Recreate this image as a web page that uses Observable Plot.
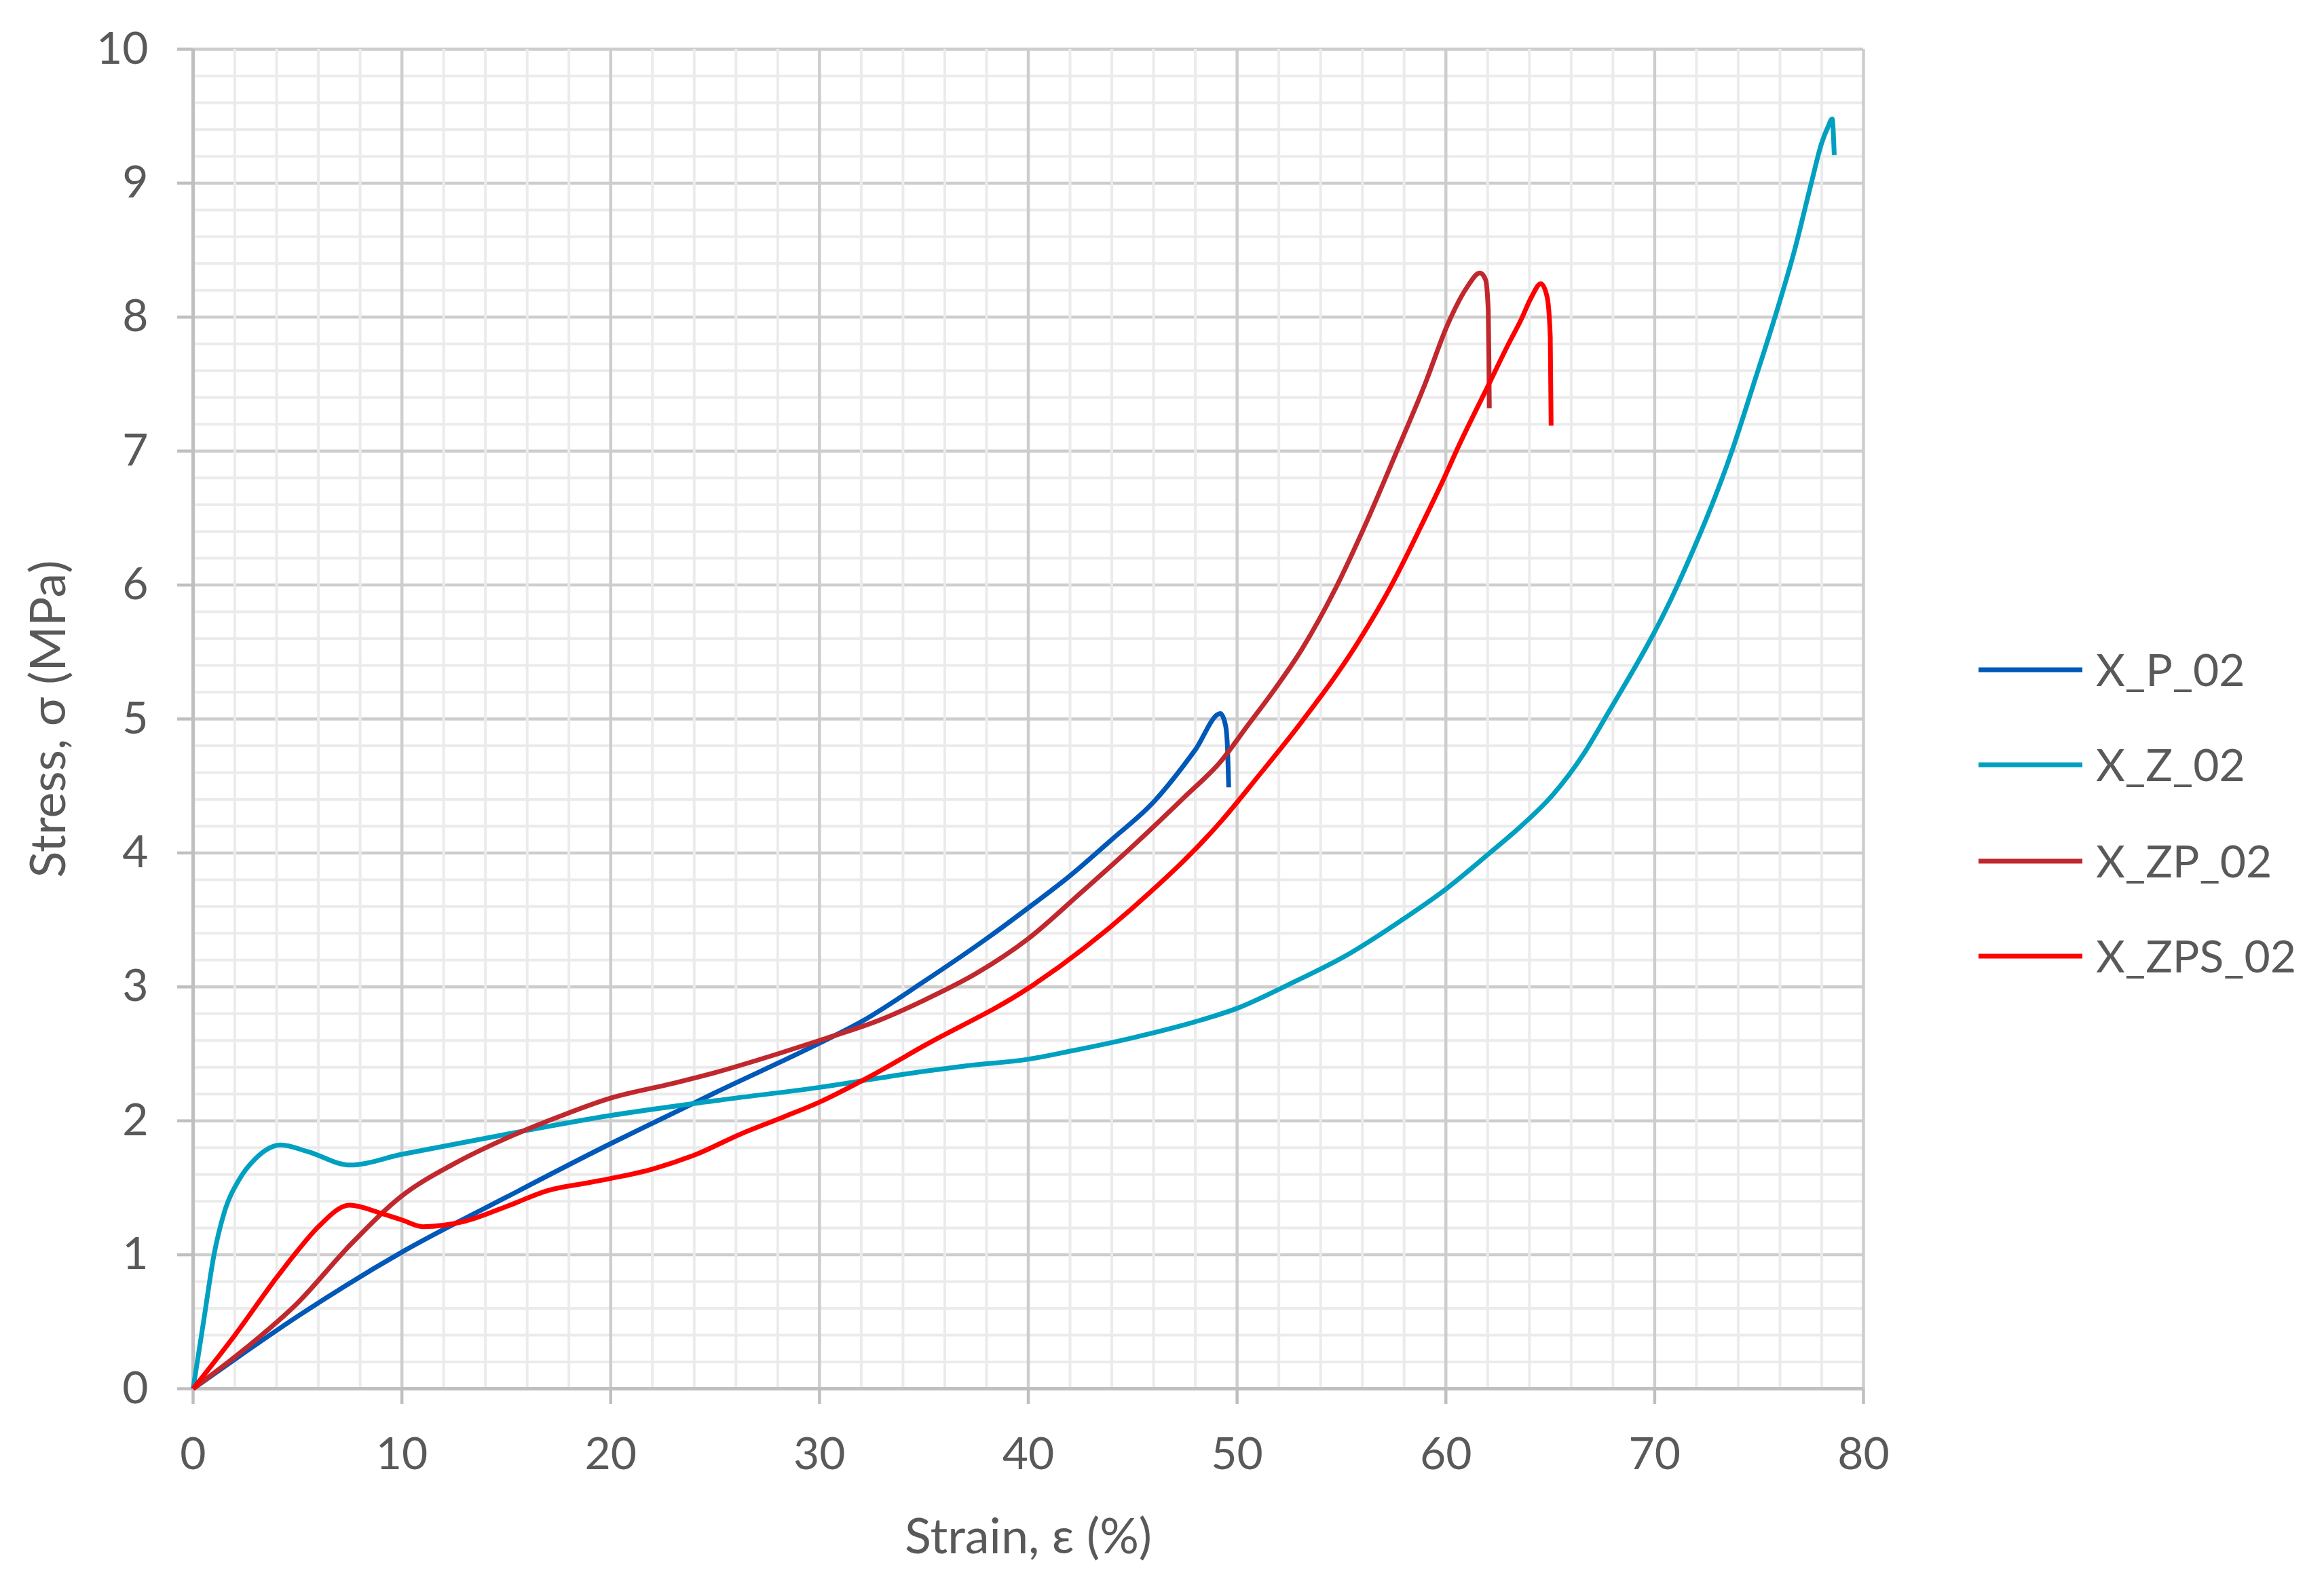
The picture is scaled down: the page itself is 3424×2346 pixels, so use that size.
<!DOCTYPE html>
<html>
<head>
<meta charset="utf-8">
<script src="https://cdn.jsdelivr.net/npm/d3@7"></script>
<script src="https://cdn.jsdelivr.net/npm/@observablehq/plot@0.6"></script>
<style>
  html, body { margin: 0; padding: 0; background: #ffffff; }
  #wrap { position: relative; width: 3424px; height: 2346px; font-family: Lato, "Open Sans", sans-serif; }
  #legend { position: absolute; left: 0; top: 0; pointer-events: none; }
</style>
</head>
<body>
<div id="wrap"></div>
<script>
// ---------- data ----------
const seriesNames  = ["X_P_02", "X_Z_02", "X_ZP_02", "X_ZPS_02"];
const seriesColors = ["#0058b8", "#00a0c0", "#c0282d", "#ff0000"];

const pStrain = [0, 2, 5, 10, 15, 20, 22.5, 25, 30, 32, 35, 38, 40, 42, 44, 46, 48, 49.2, 49.45, 49.55, 49.6];
const pStress = [0, 0.22, 0.54, 1.02, 1.43, 1.83, 2.02, 2.21, 2.58, 2.74, 3.04, 3.36, 3.59, 3.83, 4.10, 4.38, 4.77, 5.04, 4.95, 4.75, 4.49];

const zStrain = [0, 0.5, 1.0, 1.5, 2.2, 3.0, 4.2, 5.5, 7.5, 10, 15, 20, 25, 30, 35, 37, 40, 42, 45, 48, 50, 52.5, 55.4, 57.9, 60, 62.1, 63.6, 65.1, 66.6, 67.6, 71.1, 73.7, 74.8, 75.76, 76.7, 77.5, 78.0, 78.3, 78.5, 78.6];
const zStress = [0, 0.5, 1.0, 1.32, 1.56, 1.72, 1.82, 1.77, 1.67, 1.75, 1.9, 2.04, 2.15, 2.25, 2.37, 2.41, 2.46, 2.52, 2.62, 2.74, 2.84, 3.02, 3.25, 3.5, 3.73, 4.0, 4.2, 4.43, 4.74, 5.0, 6.0, 7.0, 7.53, 8.0, 8.5, 9.0, 9.3, 9.42, 9.48, 9.21];

const zpStrain = [0, 2.5, 5, 7.5, 10, 12.5, 15, 17.5, 20, 23, 25, 28, 30, 33, 35, 37.5, 40, 42.5, 45, 47.5, 49.2, 50.5, 51.7, 53.1, 54.7, 56.2, 57.6, 59.0, 60.1, 61.0, 61.63, 61.9, 62.03, 62.06, 62.08];
const zpStress = [0, 0.3, 0.64, 1.07, 1.44, 1.68, 1.87, 2.03, 2.17, 2.28, 2.36, 2.5, 2.6, 2.76, 2.9, 3.1, 3.36, 3.7, 4.05, 4.42, 4.68, 4.95, 5.2, 5.52, 5.97, 6.47, 6.98, 7.5, 7.95, 8.22, 8.33, 8.28, 8.05, 7.7, 7.32];

const zpsStrain = [0, 2, 4, 5, 6, 7.5, 9, 10, 11, 13, 15, 17, 19, 20, 22, 24.1, 26.2, 28.3, 30, 32.4, 35, 40, 45, 49.2, 51, 53, 55.7, 57.4, 59, 59.95, 60.5, 62.06, 63.0, 63.6, 64.1, 64.55, 64.85, 65.0, 65.04];
const zpsStress = [0, 0.4, 0.83, 1.03, 1.21, 1.37, 1.31, 1.26, 1.21, 1.25, 1.36, 1.48, 1.54, 1.57, 1.64, 1.75, 1.90, 2.03, 2.14, 2.33, 2.56, 2.99, 3.59, 4.23, 4.57, 4.96, 5.55, 6.0, 6.5, 6.81, 7.0, 7.5, 7.8, 7.98, 8.15, 8.25, 8.15, 7.85, 7.19];

const xTickValues = [0, 10, 20, 30, 40, 50, 60, 70, 80];
const yTickValues = [0, 1, 2, 3, 4, 5, 6, 7, 8, 9, 10];
const xTitle = "Strain, ε (%)";
const yTitle = "Stress, σ (MPa)";

// ---------- build table ----------
const seriesStrain = [pStrain, zStrain, zpStrain, zpsStrain];
const seriesStress = [pStress, zStress, zpStress, zpsStress];
const rows = [];
seriesNames.forEach((name, i) => {
  seriesStrain[i].forEach((s, j) => rows.push({series: name, strain: s, stress: seriesStress[i][j]}));
});

const xMinor = d3.range(0, 80.001, 2).filter(v => v % 10 !== 0);
const yMinor = d3.range(0, 10.001, 0.2).map(v => +v.toFixed(1)).filter(v => Math.abs(v - Math.round(v)) > 1e-6);

const W = 3424, H = 2346;
const mL = 284, mR = 679, mT = 72, mB = 300;

const minorColor = "#ebebeb";
const majorColor = "#cdcdcd";
const axisColor = "#bfbfbf";
const textColor = "#595959";

const chart = Plot.plot({
  width: W,
  height: H,
  marginLeft: mL,
  marginRight: mR,
  marginTop: mT,
  marginBottom: mB,
  style: {fontFamily: "Lato, 'Open Sans', sans-serif", fontSize: "66px", color: textColor, background: "#ffffff"},
  x: {domain: [0, 80]},
  y: {domain: [0, 10]},
  color: {domain: seriesNames, range: seriesColors},
  marks: [
    Plot.ruleY(yMinor, {stroke: minorColor, strokeWidth: 4}),
    Plot.ruleY(yTickValues, {stroke: majorColor, strokeWidth: 4.5}),
    Plot.ruleX(xMinor, {stroke: minorColor, strokeWidth: 4}),
    Plot.ruleX(xTickValues, {stroke: majorColor, strokeWidth: 4.5}),
    Plot.ruleX([0], {stroke: axisColor, strokeWidth: 5}),
    Plot.ruleY([0], {stroke: axisColor, strokeWidth: 5}),
    Plot.axisY(yTickValues, {tickSize: 23, tickPadding: 43, tickFormat: d => String(d), stroke: axisColor, strokeWidth: 4.5, fill: textColor, fontSize: 66, label: null}),
    Plot.axisX(xTickValues, {tickSize: 23, tickPadding: 49, tickFormat: d => String(d), stroke: axisColor, strokeWidth: 4.5, fill: textColor, fontSize: 66, label: null}),
    Plot.line(rows, {x: "strain", y: "stress", z: "series", stroke: "series", strokeWidth: 7, curve: "monotone-x", strokeLinejoin: "round", strokeLinecap: "butt"}),
    Plot.text([xTitle], {frameAnchor: "bottom", dy: 219, lineAnchor: "middle", textAnchor: "middle", fill: textColor, fontSize: 72}),
    Plot.text([yTitle], {frameAnchor: "left", dx: -(mL - 72), rotate: -90, lineAnchor: "middle", textAnchor: "middle", fill: textColor, fontSize: 72})
  ]
});

const wrap = document.getElementById("wrap");
wrap.appendChild(chart);

// ---------- legend ----------
const legend = d3.select(wrap).append("svg")
  .attr("id", "legend")
  .attr("width", W).attr("height", H);
const rowCenters = [987, 1127, 1269, 1409];
seriesNames.forEach((name, i) => {
  const g = legend.append("g").attr("transform", `translate(0,${rowCenters[i]})`);
  g.append("line").attr("x1", 2915).attr("x2", 3068).attr("y1", 0).attr("y2", 0)
    .attr("stroke", seriesColors[i]).attr("stroke-width", 7);
  g.append("text").attr("x", 3088).attr("y", 0).attr("dy", "0.36em")
    .attr("fill", textColor)
    .style("font-family", "Lato, 'Open Sans', sans-serif")
    .style("font-size", "66px")
    .text(name);
});
</script>
</body>
</html>
